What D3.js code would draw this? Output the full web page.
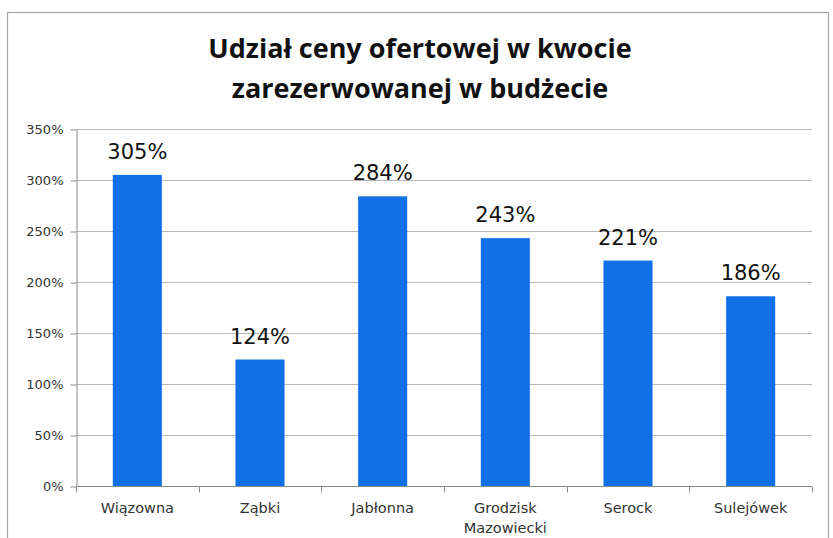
<!DOCTYPE html>
<html>
<head>
<meta charset="utf-8">
<script src="https://cdn.jsdelivr.net/npm/d3@7"></script>
<style>
  body { margin: 0; background: #fff; }
  svg { display: block; }
  .tick-label { font-family: "DejaVu Sans", sans-serif; font-size: 13px; fill: #333; }
  .cat-label { font-family: "DejaVu Sans", sans-serif; font-size: 14.5px; fill: #333; }
  .value-label { font-family: "DejaVu Sans", sans-serif; font-size: 21px; fill: #111; }
  .title { font-family: "Open Sans", sans-serif; font-size: 27px; font-weight: bold; fill: #111; }
</style>
</head>
<body>
<svg id="chart" width="833" height="538"></svg>
<script>
// chart data
const categories = ["Wiązowna", "Ząbki", "Jabłonna", "Grodzisk Mazowiecki", "Serock", "Sulejówek"];
const values = [305, 124, 284, 243, 221, 186];
const yTicks = [0, 50, 100, 150, 200, 250, 300, 350];
const titleLines = ["Udział ceny ofertowej w kwocie", "zarezerwowanej w budżecie"];

const svg = d3.select("#chart");

// outer frame
svg.append("rect").attr("x", 7.5).attr("y", 12.5).attr("width", 821).attr("height", 540)
    .attr("fill", "none").attr("stroke", "#a6a6a6").attr("stroke-width", 1.2);

let x = d3.scaleBand().domain(categories).range([76, 812]).paddingInner(0.6).paddingOuter(0.3);
let band = d3.scaleBand().domain(categories).range([76, 812]);
let y = d3.scaleLinear().domain([0, 350]).range([486, 129]);

// gridlines
svg.append("g").selectAll("line").data(yTicks.slice(1)).join("line")
    .attr("x1", 76).attr("x2", 812)
    .attr("y1", d => Math.round(y(d)) + 0.5).attr("y2", d => Math.round(y(d)) + 0.5)
    .attr("stroke", "#b8b8b8").attr("stroke-width", 1);

// y axis
let yAxis = svg.append("g").attr("transform", "translate(76.5, 0.5)")
    .call(d3.axisLeft(y).tickValues(yTicks).tickSize(6).tickSizeOuter(0).tickFormat(d => d + "%").tickPadding(7));
yAxis.select(".domain").attr("stroke", "#8c8c8c");
yAxis.selectAll(".tick line").attr("stroke", "#8c8c8c");
yAxis.selectAll(".tick text").attr("class", "tick-label").attr("fill", null);

// bars
svg.append("g").selectAll("rect").data(values).join("rect")
    .attr("x", (d, i) => x(categories[i]))
    .attr("y", d => y(d))
    .attr("width", x.bandwidth())
    .attr("height", d => y(0) - y(d))
    .attr("fill", "#1170e4");

// x axis
let xAxis = svg.append("g").attr("transform", "translate(0," + (Math.round(y(0)) + 0.5) + ")");
xAxis.append("line").attr("x1", 76).attr("x2", 812).attr("stroke", "#8c8c8c");
xAxis.selectAll("line.tk").data(d3.range(categories.length + 1)).join("line").attr("class", "tk")
    .attr("x1", i => Math.round(76 + i * band.step()) + 0.5).attr("x2", i => Math.round(76 + i * band.step()) + 0.5)
    .attr("y1", 0).attr("y2", 6).attr("stroke", "#8c8c8c");

// category labels
let cats = svg.append("g").selectAll("text").data(categories).join("text")
    .attr("class", "cat-label").attr("text-anchor", "middle")
    .attr("x", d => band(d) + band.bandwidth() / 2).attr("y", 513);
cats.each(function(d) {
    let words = d.split(" ");
    let t = d3.select(this);
    words.forEach((w, k) => t.append("tspan").attr("x", band(d) + band.bandwidth() / 2).attr("dy", k === 0 ? 0 : 20).text(w));
});

// value labels
svg.append("g").selectAll("text").data(values).join("text")
    .attr("class", "value-label").attr("text-anchor", "middle")
    .attr("x", (d, i) => band(categories[i]) + band.bandwidth() / 2)
    .attr("y", d => y(d) - 16)
    .text(d => d + "%");

// title
svg.append("g").selectAll("text").data(titleLines).join("text")
    .attr("class", "title").attr("text-anchor", "middle")
    .attr("x", 420).attr("y", (d, i) => 58 + i * 40)
    .text(d => d);
</script>
</body>
</html>
